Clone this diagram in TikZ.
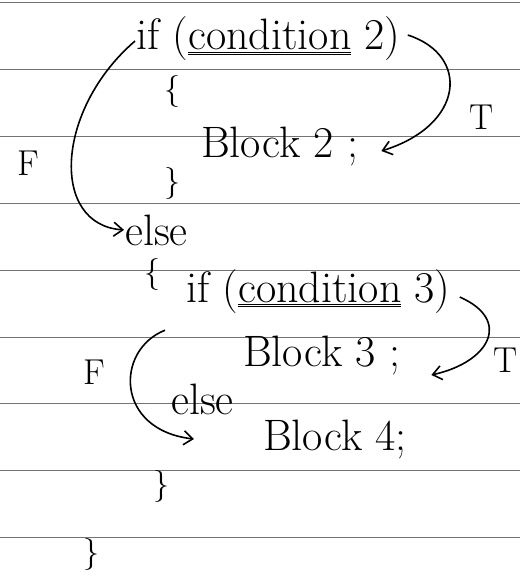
\documentclass[tikz,border=0pt]{standalone}
\usetikzlibrary{arrows.meta,positioning}
\newcommand{\dul}[1]{\underline{\underline{#1}}}
\tikzset{
  rule/.style={draw=black!55,line width=0.9pt},
  code/.style={font=\fontsize{44}{50}\selectfont,inner sep=1pt,anchor=base west},
  brace/.style={font=\fontsize{32}{38}\selectfont,inner sep=1pt,anchor=base west},
  tfmark/.style={font=\fontsize{36}{42}\selectfont,inner sep=1pt,anchor=base west},
  branch/.style={-{Straight Barb[length=9pt,width=14pt]},line width=1.6pt}
}
\begin{document}
\begin{tikzpicture}[x=1pt,y=-1pt]
  \useasboundingbox (0,0) rectangle (520,577);
  % ruled paper
  \foreach \ly in {2,69,136,203,270,337,403,470,537}
    \draw[rule] (0,\ly) -- (520,\ly);
  % outer if
  \node[code] (if2) at (135,50) {if (\dul{condition} 2)};
  \node[brace] (ob2) at (163,100) {\{};
  \node[code] (blk2) at (200,158) {Block 2 ;};
  \node[brace] (cb2) at (163,192) {\}};
  \node[tfmark] (f2) at (16,176) {F};
  \node[tfmark] (t2) at (468,130) {T};
  \node[code] (els2) at (124,245) {else};
  % inner if
  \node[brace] (ob3) at (143,282) {\{};
  \node[code] (if3) at (185,302) {if (\dul{condition} 3)};
  \node[code] (blk3) at (242,366) {Block 3 ;};
  \node[tfmark] (f3) at (82,384) {F};
  \node[tfmark] (t3) at (492,372) {T};
  \node[code] (els3) at (170,414) {else};
  \node[code] (blk4) at (262,450) {Block 4;};
  \node[brace] (cb3) at (152,494) {\}};
  \node[brace] (cb1) at (82,562) {\}};
  % branches
  \draw[branch] ([xshift=6pt,yshift=4pt]if2.east) .. controls (470,55) and (465,125) .. ([xshift=22pt,yshift=-4pt]blk2.east);
  \draw[branch] ([yshift=-2pt]if2.west) .. controls (55,110) and (50,225) .. (els2.west);
  \draw[branch] ([xshift=8pt,yshift=-6pt]if3.east) .. controls (512,320) and (490,362) .. ([shift={(30pt,-20pt)}]blk3.east);
  \draw[branch] ([shift={(-20pt,-16pt)}]if3.south west) .. controls (115,350) and (115,430) .. ([xshift=-68pt]blk4.west);
\end{tikzpicture}
\end{document}
